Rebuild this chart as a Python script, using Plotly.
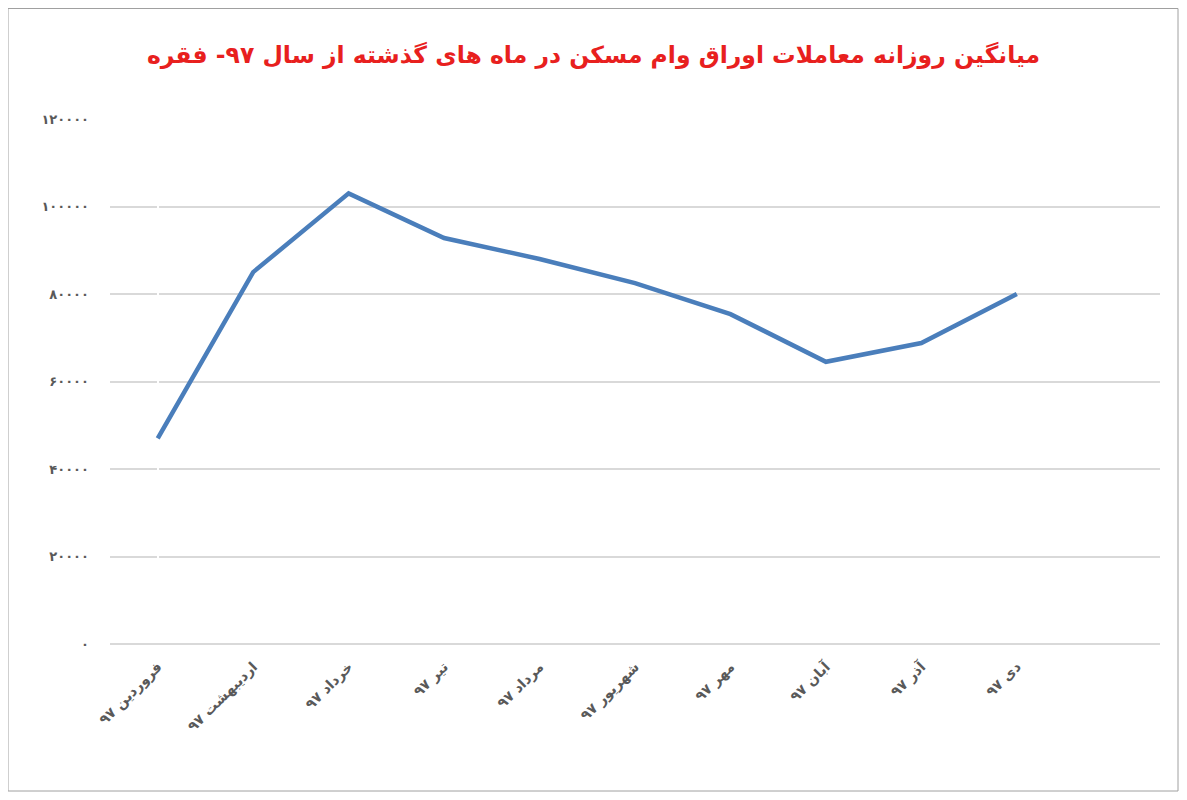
import plotly.graph_objects as go

months = ["فروردین ۹۷","اردیبهشت ۹۷","خرداد ۹۷","تیر ۹۷","مرداد ۹۷","شهریور ۹۷","مهر ۹۷","آبان ۹۷","آذر ۹۷","دی ۹۷"]
values = [47000, 85000, 103000, 92800, 88000, 82500, 75400, 64500, 68800, 80000]
tick_vals = [0, 20000, 40000, 60000, 80000, 100000, 120000]
tick_text = ["<b>۰</b>","<b>۲۰۰۰۰</b>","<b>۴۰۰۰۰</b>","<b>۶۰۰۰۰</b>","<b>۸۰۰۰۰</b>","<b>۱۰۰۰۰۰</b>","<b>۱۲۰۰۰۰</b>"]

W, H = 1171, 784
L, T, R, B = 102, 111, 19, 148
pw, ph = W - L - R, H - T - B

fig = go.Figure(go.Scatter(x=list(range(len(months))), y=values, mode="lines",
                           line=dict(color="#4a7ebb", width=4.5)))
fig.update_layout(
    width=W, height=H, paper_bgcolor="white", plot_bgcolor="white",
    margin=dict(l=L, r=R, t=T, b=B),
    title=dict(text="<b>میانگین روزانه معاملات اوراق وام مسکن در ماه های گذشته از سال ۹۷- فقره</b>",
               x=0.5, y=1 - 47 / H, xanchor="center", yanchor="middle",
               font=dict(color="#e8201e", size=23.5, family="DejaVu Sans")),
    showlegend=False,
    xaxis=dict(tickmode="array", tickvals=list(range(len(months))), ticktext=["<b>%s</b>" % m for m in months],
               range=[-0.5, 10.5], tickangle=-45, showgrid=False, showline=False,
               ticks="outside", ticklen=8, tickcolor="rgba(0,0,0,0)",
               tickfont=dict(size=14, color="#595959", family="DejaVu Sans")),
    yaxis=dict(tickmode="array", tickvals=tick_vals, ticktext=tick_text, range=[0, 120000],
               showgrid=True, gridcolor="#d9d9d9", gridwidth=2, zeroline=True, zerolinecolor="#d9d9d9",
               zerolinewidth=2, ticklen=0, ticks="", ticklabelstandoff=20,
               tickfont=dict(size=13, color="#595959", family="DejaVu Sans")),
    shapes=[dict(type="rect", xref="paper", yref="paper",
                 x0=-L / pw, x1=(W - 1 - L) / pw, y0=-(B - 1) / ph, y1=(ph + T - 0.5) / ph,
                 line=dict(color="#a0a0a0", width=1))]
)
fig.write_html("out.html")
